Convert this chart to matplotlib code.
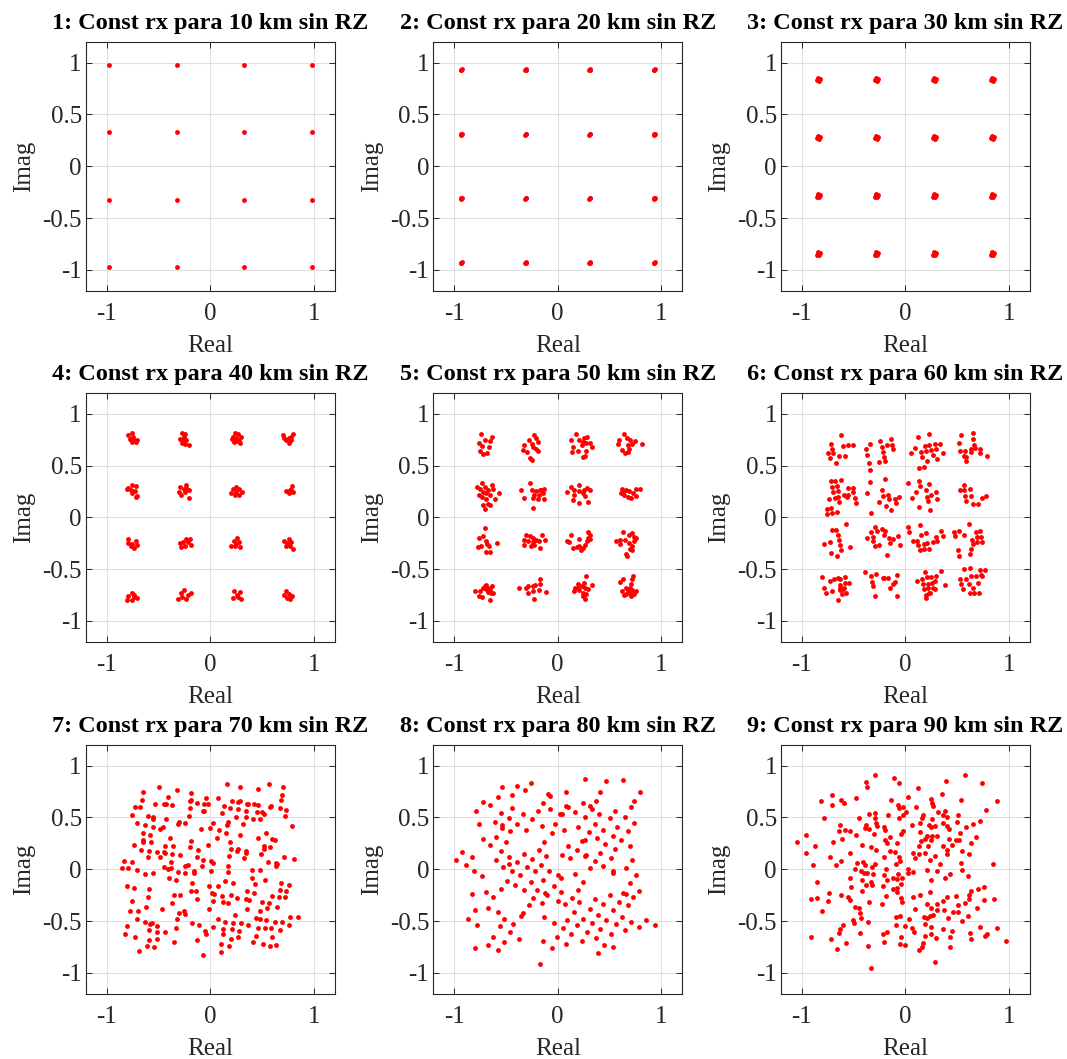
import numpy as np
import matplotlib
matplotlib.use("Agg")
import matplotlib.pyplot as plt

plt.rcParams['font.family'] = ['Liberation Serif', 'DejaVu Serif']

distances = [10, 20, 30, 40, 50, 60, 70, 80, 90]

# 16-QAM levels for the short links (clusters are tight)
p1_levels = [-0.977, -0.326, 0.326, 0.977]
p2_levels = [-0.93, -0.31, 0.31, 0.93]
p3_levels = [-0.84, -0.28, 0.28, 0.84]
p1_spread = [(0.0, 0.0)]
p2_spread = [(0.0, 0.0), (0.006, 0.004), (-0.004, -0.004)]
p3_spread = [(0.0, 0.0), (0.015, 0.005), (-0.01, -0.012), (0.005, -0.015), (-0.008, 0.012)]

p4 = [(-0.79, 0.79), (-0.76, 0.81), (-0.75, 0.78), (-0.78, 0.76), (-0.74, 0.75), (-0.76, 0.73), (-0.72, 0.73), (-0.71, 0.75), (-0.77, 0.75),
      (-0.27, 0.81), (-0.24, 0.80), (-0.29, 0.76), (-0.26, 0.75), (-0.23, 0.75), (-0.27, 0.72), (-0.24, 0.71), (-0.21, 0.70), (-0.25, 0.78),
      (0.24, 0.81), (0.27, 0.80), (0.21, 0.76), (0.25, 0.77), (0.28, 0.75), (0.23, 0.73), (0.29, 0.72), (0.26, 0.74), (0.22, 0.78), (0.30, 0.78),
      (0.70, 0.79), (0.80, 0.80), (0.76, 0.77), (0.73, 0.75), (0.78, 0.75), (0.76, 0.72), (0.71, 0.77), (0.78, 0.78),
      (-0.76, 0.31), (-0.72, 0.30), (-0.80, 0.27), (-0.77, 0.26), (-0.73, 0.25), (-0.76, 0.23), (-0.72, 0.20), (-0.71, 0.21), (-0.79, 0.28),
      (-0.23, 0.31), (-0.29, 0.29), (-0.25, 0.27), (-0.21, 0.26), (-0.30, 0.24), (-0.24, 0.24), (-0.28, 0.22), (-0.21, 0.19), (-0.23, 0.28),
      (0.25, 0.29), (0.22, 0.27), (0.28, 0.27), (0.20, 0.23), (0.31, 0.24), (0.24, 0.22), (0.28, 0.22), (0.25, 0.24),
      (0.79, 0.30), (0.78, 0.26), (0.73, 0.25), (0.76, 0.23), (0.80, 0.24), (0.77, 0.26),
      (-0.79, -0.21), (-0.79, -0.25), (-0.76, -0.26), (-0.72, -0.23), (-0.71, -0.27), (-0.74, -0.30), (-0.77, -0.28),
      (-0.23, -0.21), (-0.20, -0.21), (-0.29, -0.25), (-0.26, -0.24), (-0.19, -0.27), (-0.28, -0.29), (-0.24, -0.28), (-0.22, -0.24),
      (0.26, -0.20), (0.23, -0.23), (0.28, -0.24), (0.20, -0.28), (0.24, -0.28), (0.29, -0.29), (0.25, -0.26),
      (0.71, -0.23), (0.76, -0.21), (0.78, -0.24), (0.73, -0.28), (0.77, -0.28), (0.80, -0.31), (0.74, -0.25),
      (-0.76, -0.73), (-0.79, -0.76), (-0.74, -0.75), (-0.80, -0.80), (-0.76, -0.80), (-0.71, -0.78), (-0.74, -0.77),
      (-0.25, -0.70), (-0.19, -0.73), (-0.28, -0.73), (-0.31, -0.79), (-0.23, -0.79), (-0.27, -0.77), (-0.22, -0.75),
      (0.23, -0.71), (0.29, -0.72), (0.26, -0.75), (0.22, -0.78), (0.30, -0.79), (0.27, -0.77),
      (0.73, -0.71), (0.71, -0.75), (0.76, -0.74), (0.79, -0.76), (0.74, -0.78), (0.77, -0.79)]

p5 = [(-0.74, 0.80), (-0.63, 0.78), (-0.76, 0.72), (-0.70, 0.75), (-0.65, 0.74), (-0.73, 0.69), (-0.66, 0.68), (-0.75, 0.64), (-0.68, 0.62), (-0.72, 0.61),
      (-0.23, 0.79), (-0.33, 0.70), (-0.28, 0.75), (-0.25, 0.71), (-0.21, 0.77), (-0.19, 0.73), (-0.34, 0.65), (-0.21, 0.66), (-0.19, 0.64), (-0.30, 0.63),
      (-0.24, 0.68), (-0.27, 0.57), (-0.25, 0.55),
      (0.18, 0.80), (0.13, 0.75), (0.21, 0.75), (0.25, 0.77), (0.28, 0.78), (0.24, 0.73), (0.27, 0.72), (0.23, 0.70), (0.31, 0.72), (0.33, 0.68),
      (0.15, 0.68), (0.20, 0.64), (0.27, 0.64), (0.14, 0.63), (0.26, 0.59), (0.24, 0.58),
      (0.64, 0.80), (0.59, 0.75), (0.67, 0.77), (0.70, 0.75), (0.75, 0.74), (0.81, 0.71), (0.58, 0.71), (0.68, 0.70), (0.72, 0.71), (0.62, 0.65),
      (0.69, 0.66), (0.65, 0.62), (0.68, 0.63),
      (-0.73, 0.33), (-0.78, 0.29), (-0.75, 0.27), (-0.70, 0.29), (-0.63, 0.31), (-0.67, 0.26), (-0.62, 0.27), (-0.72, 0.24), (-0.69, 0.23), (-0.65, 0.22),
      (-0.57, 0.23), (-0.73, 0.20), (-0.69, 0.18), (-0.61, 0.18), (-0.72, 0.12), (-0.67, 0.13), (-0.70, 0.08), (-0.65, 0.12), (-0.76, 0.22),
      (-0.27, 0.33), (-0.35, 0.26), (-0.25, 0.26), (-0.21, 0.25), (-0.17, 0.26), (-0.13, 0.27), (-0.23, 0.22), (-0.18, 0.22), (-0.14, 0.23), (-0.33, 0.19),
      (-0.24, 0.19), (-0.19, 0.18), (-0.13, 0.18), (-0.24, 0.09), (-0.16, 0.26),
      (0.21, 0.31), (0.13, 0.29), (0.09, 0.24), (0.16, 0.26), (0.21, 0.25), (0.25, 0.26), (0.28, 0.28), (0.31, 0.26), (0.24, 0.23), (0.16, 0.22),
      (0.26, 0.21), (0.15, 0.17), (0.21, 0.14), (0.29, 0.15),
      (0.62, 0.27), (0.66, 0.26), (0.69, 0.25), (0.61, 0.23), (0.64, 0.22), (0.68, 0.20), (0.73, 0.23), (0.76, 0.27), (0.79, 0.27), (0.76, 0.21),
      (0.71, 0.19), (0.63, 0.23),
      (-0.70, -0.10), (-0.72, -0.18), (-0.76, -0.20), (-0.69, -0.23), (-0.77, -0.29), (-0.74, -0.28), (-0.66, -0.28), (-0.59, -0.25), (-0.69, -0.33),
      (-0.65, -0.33), (-0.68, -0.26),
      (-0.31, -0.17), (-0.27, -0.18), (-0.24, -0.20), (-0.33, -0.22), (-0.29, -0.23), (-0.24, -0.24), (-0.21, -0.22), (-0.18, -0.23), (-0.15, -0.17),
      (-0.12, -0.22), (-0.33, -0.27), (-0.26, -0.28), (-0.23, -0.27), (-0.17, -0.30),
      (0.29, -0.14), (0.13, -0.17), (0.21, -0.21), (0.31, -0.17), (0.31, -0.21), (0.09, -0.23), (0.11, -0.24), (0.28, -0.23), (0.26, -0.27), (0.21, -0.28),
      (0.15, -0.30), (0.19, -0.29), (0.22, -0.32), (0.24, -0.30), (0.29, -0.20),
      (0.63, -0.14), (0.56, -0.23), (0.60, -0.22), (0.65, -0.22), (0.69, -0.17), (0.72, -0.15), (0.74, -0.19), (0.76, -0.20), (0.69, -0.25), (0.74, -0.23),
      (0.72, -0.28), (0.72, -0.32), (0.66, -0.35), (0.67, -0.37), (0.70, -0.31), (0.60, -0.26),
      (-0.80, -0.71), (-0.75, -0.71), (-0.72, -0.68), (-0.70, -0.66), (-0.69, -0.65), (-0.67, -0.68), (-0.63, -0.66), (-0.65, -0.70), (-0.62, -0.73),
      (-0.64, -0.73), (-0.69, -0.69), (-0.76, -0.76), (-0.73, -0.77), (-0.65, -0.80), (-0.67, -0.72),
      (-0.37, -0.68), (-0.31, -0.68), (-0.29, -0.66), (-0.24, -0.66), (-0.22, -0.65), (-0.17, -0.60), (-0.17, -0.64), (-0.29, -0.73), (-0.24, -0.71),
      (-0.18, -0.70), (-0.11, -0.72), (-0.23, -0.79),
      (0.27, -0.57), (0.20, -0.64), (0.23, -0.66), (0.25, -0.63), (0.33, -0.65), (0.17, -0.68), (0.21, -0.70), (0.26, -0.68), (0.29, -0.69), (0.16, -0.71),
      (0.24, -0.73), (0.27, -0.74), (0.24, -0.76), (0.26, -0.79), (0.20, -0.68),
      (0.73, -0.57), (0.60, -0.62), (0.63, -0.60), (0.72, -0.60), (0.71, -0.64), (0.66, -0.68), (0.70, -0.68), (0.76, -0.71), (0.62, -0.71), (0.68, -0.71),
      (0.72, -0.70), (0.64, -0.75), (0.66, -0.74), (0.71, -0.76), (0.74, -0.74), (0.70, -0.73)]

p6 = [(-0.62, 0.79), (-0.72, 0.71), (-0.60, 0.69), (-0.55, 0.70), (-0.51, 0.70), (-0.71, 0.66), (-0.75, 0.62), (-0.70, 0.62), (-0.64, 0.59), (-0.58, 0.59),
      (-0.73, 0.57), (-0.67, 0.52),
      (-0.34, 0.71), (-0.24, 0.74), (-0.14, 0.76), (-0.18, 0.70), (-0.13, 0.70), (-0.38, 0.66), (-0.23, 0.68), (-0.12, 0.66), (-0.37, 0.60), (-0.22, 0.63),
      (-0.21, 0.58), (-0.25, 0.53), (-0.35, 0.52), (-0.34, 0.46), (-0.20, 0.54),
      (0.12, 0.78), (0.23, 0.80), (0.19, 0.69), (0.23, 0.70), (0.29, 0.71), (0.33, 0.71), (0.09, 0.67), (0.15, 0.63), (0.20, 0.64), (0.25, 0.65),
      (0.30, 0.66), (0.36, 0.62), (0.05, 0.62), (0.16, 0.58), (0.27, 0.60), (0.31, 0.56), (0.21, 0.54), (0.13, 0.48), (0.18, 0.49),
      (0.54, 0.79), (0.65, 0.81), (0.65, 0.76), (0.52, 0.72), (0.66, 0.70), (0.63, 0.66), (0.67, 0.67), (0.72, 0.66), (0.53, 0.64), (0.58, 0.64),
      (0.57, 0.59), (0.63, 0.63), (0.72, 0.62), (0.79, 0.59), (0.59, 0.54), (0.59, 0.58),
      (-0.62, 0.36), (-0.72, 0.35), (-0.68, 0.35), (-0.71, 0.29), (-0.66, 0.30), (-0.70, 0.24), (-0.65, 0.25), (-0.59, 0.22), (-0.55, 0.28), (-0.51, 0.28),
      (-0.51, 0.24), (-0.55, 0.22), (-0.65, 0.20), (-0.74, 0.18), (-0.68, 0.19), (-0.64, 0.15), (-0.56, 0.20), (-0.49, 0.19), (-0.48, 0.14), (-0.76, 0.08),
      (-0.72, 0.09), (-0.76, 0.03), (-0.71, 0.04), (-0.66, 0.05),
      (-0.34, 0.34), (-0.20, 0.37), (-0.37, 0.23), (-0.23, 0.26), (-0.22, 0.21), (-0.17, 0.22), (-0.25, 0.15), (-0.16, 0.18), (-0.10, 0.18), (-0.06, 0.20),
      (-0.09, 0.14), (-0.19, 0.11), (-0.14, 0.07), (-0.33, 0.04),
      (0.03, 0.33), (0.13, 0.35), (0.14, 0.30), (0.23, 0.32), (0.10, 0.24), (0.20, 0.26), (0.25, 0.22), (0.30, 0.24), (0.06, 0.19), (0.21, 0.20),
      (0.31, 0.18), (0.22, 0.16), (0.13, 0.10), (0.24, 0.07),
      (0.57, 0.31), (0.53, 0.26), (0.57, 0.26), (0.62, 0.27), (0.58, 0.21), (0.63, 0.21), (0.59, 0.16), (0.65, 0.13), (0.70, 0.13), (0.74, 0.19), (0.78, 0.21),
      (-0.57, -0.06), (-0.71, -0.12), (-0.67, -0.12), (-0.65, -0.17), (-0.64, -0.22), (-0.63, -0.27), (-0.79, -0.26), (-0.73, -0.24), (-0.53, -0.29),
      (-0.62, -0.32), (-0.72, -0.34), (-0.66, -0.37),
      (-0.29, -0.09), (-0.23, -0.11), (-0.27, -0.13), (-0.33, -0.14), (-0.20, -0.13), (-0.21, -0.17), (-0.37, -0.20), (-0.31, -0.19), (-0.31, -0.23),
      (-0.16, -0.20), (-0.12, -0.21), (-0.07, -0.18), (-0.15, -0.25), (-0.29, -0.28), (-0.25, -0.27), (-0.05, -0.27), (-0.18, -0.36),
      (0.03, -0.09), (0.14, -0.07), (0.04, -0.14), (0.20, -0.15), (0.15, -0.17), (0.34, -0.13), (0.36, -0.18), (0.30, -0.19), (0.07, -0.23), (0.11, -0.23),
      (0.12, -0.27), (0.18, -0.26), (0.21, -0.25), (0.27, -0.24), (0.31, -0.23), (0.18, -0.31), (0.23, -0.31), (0.14, -0.32),
      (0.61, -0.06), (0.47, -0.14), (0.52, -0.13), (0.48, -0.18), (0.57, -0.17), (0.68, -0.14), (0.72, -0.13), (0.73, -0.19), (0.69, -0.19), (0.64, -0.22),
      (0.69, -0.24), (0.74, -0.24), (0.65, -0.26), (0.63, -0.31), (0.51, -0.32), (0.62, -0.35), (0.52, -0.37),
      (-0.80, -0.58), (-0.73, -0.61), (-0.69, -0.60), (-0.65, -0.59), (-0.63, -0.60), (-0.58, -0.58), (-0.79, -0.68), (-0.71, -0.71), (-0.77, -0.73),
      (-0.63, -0.65), (-0.58, -0.63), (-0.54, -0.63), (-0.63, -0.68), (-0.60, -0.69), (-0.59, -0.68), (-0.63, -0.70), (-0.61, -0.74), (-0.57, -0.73),
      (-0.65, -0.80),
      (-0.39, -0.53), (-0.33, -0.57), (-0.28, -0.55), (-0.22, -0.59), (-0.21, -0.59), (-0.17, -0.59), (-0.08, -0.56), (-0.32, -0.62), (-0.31, -0.66),
      (-0.10, -0.62), (-0.12, -0.64), (-0.15, -0.68), (-0.29, -0.76), (-0.08, -0.76),
      (0.19, -0.53), (0.34, -0.52), (0.11, -0.61), (0.16, -0.60), (0.21, -0.58), (0.25, -0.58), (0.30, -0.57), (0.17, -0.64), (0.22, -0.64), (0.26, -0.63),
      (0.29, -0.61), (0.38, -0.65), (0.18, -0.69), (0.22, -0.68), (0.27, -0.68), (0.29, -0.69), (0.23, -0.73), (0.24, -0.73), (0.20, -0.75), (0.20, -0.78),
      (0.57, -0.50), (0.62, -0.49), (0.72, -0.51), (0.77, -0.51), (0.53, -0.60), (0.59, -0.60), (0.63, -0.57), (0.68, -0.57), (0.73, -0.56), (0.74, -0.57),
      (0.54, -0.64), (0.61, -0.64), (0.70, -0.63), (0.65, -0.68), (0.66, -0.73), (0.71, -0.73), (0.56, -0.69), (0.62, -0.73)]

p7 = [(0.16, 0.82), (0.57, 0.82), (-0.50, 0.79), (0.29, 0.79), (0.70, 0.79), (-0.65, 0.75), (-0.32, 0.76), (0.46, 0.77), (-0.19, 0.74), (0.69, 0.72),
      (-0.41, 0.70), (-0.66, 0.67), (-0.04, 0.69), (0.07, 0.69), (0.68, 0.67), (-0.19, 0.67), (-0.20, 0.66), (0.21, 0.66), (0.27, 0.65), (0.29, 0.66),
      (-0.53, 0.63), (-0.45, 0.63), (-0.43, 0.63), (-0.37, 0.62), (-0.13, 0.64), (-0.06, 0.63), (-0.02, 0.63), (0.35, 0.63), (0.36, 0.63), (0.42, 0.63),
      (0.46, 0.62), (-0.73, 0.60), (-0.68, 0.60), (-0.20, 0.59), (0.13, 0.61), (0.19, 0.59), (0.27, 0.58), (0.34, 0.56), (0.59, 0.61), (0.58, 0.60),
      (0.67, 0.59), (0.73, 0.57), (-0.06, 0.56), (-0.07, 0.56), (0.11, 0.54), (0.45, 0.55), (0.50, 0.55), (0.52, 0.53), (-0.76, 0.52), (-0.60, 0.51),
      (-0.55, 0.50), (-0.55, 0.48), (-0.21, 0.51), (0.25, 0.50), (0.34, 0.50), (0.41, 0.48), (0.48, 0.48), (0.72, 0.51), (-0.43, 0.48), (-0.71, 0.45),
      (-0.30, 0.46), (-0.31, 0.44), (-0.24, 0.45), (0.03, 0.45), (0.17, 0.46), (0.16, 0.43), (0.32, 0.44), (-0.63, 0.43), (-0.55, 0.41), (-0.46, 0.41),
      (-0.49, 0.39), (-0.09, 0.39), (0.00, 0.40), (0.08, 0.38), (0.79, 0.42), (-0.65, 0.35), (-0.58, 0.33), (0.15, 0.35), (0.54, 0.35), (-0.39, 0.30),
      (0.06, 0.30), (0.29, 0.33), (0.46, 0.30), (0.60, 0.29), (0.62, 0.28), (-0.65, 0.28), (-0.65, 0.26), (-0.57, 0.26), (-0.19, 0.27), (0.19, 0.26),
      (-0.74, 0.23), (-0.44, 0.22), (-0.36, 0.22), (-0.02, 0.23), (0.52, 0.22), (0.58, 0.21), (-0.67, 0.19), (-0.59, 0.18), (-0.45, 0.17), (-0.44, 0.16),
      (-0.20, 0.21), (-0.12, 0.19), (0.20, 0.20), (0.27, 0.20), (0.26, 0.18), (0.34, 0.18), (0.34, 0.16), (0.52, 0.20), (-0.37, 0.15), (-0.51, 0.17),
      (-0.29, 0.14), (0.49, 0.15), (-0.60, 0.12), (-0.49, 0.12), (-0.13, 0.12), (0.18, 0.13), (0.33, 0.11), (0.71, 0.12), (0.81, 0.10), (-0.83, 0.08),
      (-0.76, 0.07), (-0.38, 0.07), (-0.07, 0.09), (0.01, 0.08), (0.03, 0.06), (0.56, 0.07), (0.63, 0.06), (0.64, 0.05), (0.63, 0.03), (-0.22, 0.04),
      (-0.24, 0.03), (-0.08, 0.03), (0.17, 0.03), (-0.85, 0.01), (-0.79, 0.01), (-0.71, -0.01), (-0.45, 0.02), (-0.41, 0.00), (-0.38, 0.01), (0.40, -0.01),
      (0.48, -0.01), (-0.31, -0.03), (-0.16, -0.02), (0.01, -0.02), (0.17, -0.03),
      (-0.63, -0.05), (-0.55, -0.04), (-0.24, -0.04), (-0.16, -0.04), (-0.40, -0.08), (-0.33, -0.10), (0.40, -0.08), (0.14, -0.11), (0.22, -0.13), (0.53, -0.10),
      (0.68, -0.13), (0.76, -0.15), (-0.18, -0.13), (-0.01, -0.16), (0.07, -0.16), (-0.80, -0.16), (-0.74, -0.18), (0.43, -0.14), (-0.59, -0.19), (-0.19, -0.21),
      (-0.14, -0.21), (0.67, -0.20), (0.73, -0.21), (0.02, -0.23), (0.04, -0.24), (0.20, -0.25), (0.35, -0.21), (0.42, -0.23), (-0.35, -0.25), (-0.29, -0.25),
      (0.11, -0.26), (-0.60, -0.27), (0.26, -0.28), (0.34, -0.29), (0.60, -0.26), (0.66, -0.27), (0.72, -0.27), (-0.76, -0.31), (-0.13, -0.29), (0.03, -0.31),
      (0.12, -0.32), (0.17, -0.33), (0.37, -0.30), (0.50, -0.32), (0.57, -0.33), (0.55, -0.37), (0.64, -0.36), (-0.37, -0.33), (-0.62, -0.36), (-0.47, -0.38),
      (-0.01, -0.38), (0.35, -0.38), (0.48, -0.40), (-0.78, -0.40), (-0.70, -0.40), (-0.25, -0.40), (-0.24, -0.43), (-0.30, -0.42), (0.24, -0.44), (-0.71, -0.48),
      (-0.32, -0.48), (0.07, -0.48), (0.44, -0.47), (0.48, -0.48), (0.77, -0.46), (0.85, -0.46), (-0.63, -0.51), (-0.56, -0.52), (-0.58, -0.53), (-0.18, -0.52),
      (-0.11, -0.54), (0.14, -0.51), (0.22, -0.52), (0.30, -0.52), (0.36, -0.54), (0.54, -0.49), (0.62, -0.51), (0.69, -0.51), (0.76, -0.54), (-0.80, -0.55),
      (-0.51, -0.55), (-0.33, -0.57), (0.03, -0.56), (0.12, -0.58), (0.21, -0.58), (0.28, -0.60), (0.46, -0.57), (0.53, -0.57), (0.59, -0.57), (0.67, -0.59),
      (-0.59, -0.59), (-0.51, -0.61), (-0.44, -0.61), (-0.82, -0.63), (-0.73, -0.65), (-0.59, -0.68), (-0.51, -0.67), (-0.05, -0.60), (-0.04, -0.63), (0.12, -0.63),
      (0.20, -0.67), (0.27, -0.65), (0.44, -0.64), (0.60, -0.65), (-0.35, -0.70), (-0.13, -0.68), (0.41, -0.70), (-0.61, -0.74), (-0.54, -0.75), (0.10, -0.72),
      (0.18, -0.74), (0.51, -0.72), (0.58, -0.74), (0.63, -0.73), (-0.69, -0.79), (0.10, -0.80), (-0.07, -0.83)]

p8 = [(0.26, 0.87), (0.47, 0.85), (0.63, 0.86), (-0.26, 0.83), (-0.54, 0.79), (-0.39, 0.80), (-0.32, 0.76), (0.08, 0.75), (0.41, 0.75), (0.79, 0.75),
      (-0.44, 0.72), (-0.09, 0.73), (-0.07, 0.71), (-0.58, 0.70), (-0.72, 0.65), (-0.65, 0.62), (-0.44, 0.59), (-0.14, 0.64), (0.37, 0.66), (0.74, 0.66),
      (0.08, 0.61), (0.10, 0.60), (0.24, 0.64), (0.31, 0.61), (0.33, 0.58), (0.71, 0.60), (-0.79, 0.56), (-0.07, 0.58), (-0.19, 0.56), (0.55, 0.56),
      (0.17, 0.55), (-0.55, 0.54), (-0.34, 0.53), (0.02, 0.53), (0.04, 0.53), (0.40, 0.53), (-0.47, 0.49), (-0.25, 0.48), (0.26, 0.50), (0.50, 0.49),
      (0.65, 0.50), (-0.76, 0.44), (-0.61, 0.46), (-0.54, 0.43), (-0.54, 0.40), (-0.39, 0.44), (-0.15, 0.42), (-0.03, 0.44), (0.36, 0.44), (0.74, 0.45),
      (-0.46, 0.37), (-0.31, 0.38), (-0.06, 0.35), (0.06, 0.38), (0.20, 0.41), (0.30, 0.36), (0.44, 0.38), (0.57, 0.41), (0.68, 0.37), (-0.72, 0.29),
      (-0.60, 0.31), (-0.50, 0.26), (-0.13, 0.26), (0.23, 0.27), (0.26, 0.28), (0.38, 0.30), (0.53, 0.32), (0.61, 0.28), (-0.65, 0.23), (0.10, 0.22),
      (0.46, 0.24), (0.55, 0.20), (0.70, 0.22), (0.19, 0.19), (-0.18, 0.19), (-0.92, 0.17), (-0.55, 0.18), (-0.33, 0.15), (0.04, 0.14), (0.27, 0.14),
      (0.26, 0.13), (0.41, 0.16), (-0.11, 0.13), (-0.98, 0.09), (-0.83, 0.12), (-0.89, 0.04), (-0.60, 0.09), (-0.47, 0.12), (-0.25, 0.10), (0.51, 0.11),
      (0.12, 0.11), (0.72, 0.09), (-0.39, 0.07), (-0.47, 0.05), (-0.16, 0.04), (0.36, 0.08), (-0.53, 0.02), (-0.30, 0.02), (0.44, 0.03), (0.31, 0.01),
      (0.66, 0.01), (-0.81, -0.02), (-0.44, -0.02), (-0.22, -0.02), (-0.08, -0.02), (0.53, -0.02),
      (-0.73, -0.07), (-0.36, -0.06), (0.00, -0.06), (0.03, -0.08), (0.17, -0.05), (0.53, -0.04), (0.76, -0.06), (-0.49, -0.11), (-0.26, -0.12), (-0.14, -0.10),
      (0.24, -0.12), (0.70, -0.13), (-0.41, -0.15), (-0.04, -0.16), (-0.55, -0.19), (-0.33, -0.20), (-0.20, -0.20), (0.20, -0.20), (0.78, -0.21), (-0.83, -0.24),
      (-0.69, -0.22), (-0.12, -0.23), (-0.10, -0.25), (0.03, -0.22), (0.50, -0.25), (0.63, -0.23), (0.66, -0.24), (-0.62, -0.27), (-0.24, -0.28), (0.14, -0.28),
      (0.36, -0.29), (0.73, -0.27), (0.00, -0.31), (0.21, -0.32), (-0.15, -0.33), (0.07, -0.34), (-0.28, -0.35), (0.44, -0.34), (0.59, -0.32), (0.68, -0.35),
      (-0.67, -0.37), (0.31, -0.38), (-0.80, -0.39), (-0.58, -0.41), (-0.34, -0.42), (-0.35, -0.45), (0.16, -0.41), (0.53, -0.39), (0.39, -0.44), (-0.13, -0.46),
      (-0.52, -0.48), (0.24, -0.48), (0.62, -0.46), (-0.87, -0.48), (0.09, -0.49), (0.47, -0.49), (0.85, -0.49), (0.94, -0.54), (-0.04, -0.52), (-0.43, -0.53),
      (0.33, -0.52), (0.71, -0.51), (0.56, -0.53), (-0.78, -0.54), (-0.56, -0.55), (0.19, -0.54), (0.78, -0.56), (0.05, -0.57), (0.41, -0.58), (0.65, -0.59),
      (-0.46, -0.61), (0.28, -0.61), (0.51, -0.63), (-0.62, -0.65), (0.13, -0.63), (-0.37, -0.67), (-0.01, -0.65), (0.37, -0.66), (0.23, -0.69), (-0.52, -0.70),
      (-0.14, -0.69), (-0.67, -0.73), (0.08, -0.72), (0.45, -0.73), (-0.80, -0.76), (-0.58, -0.78), (-0.06, -0.76), (0.53, -0.75), (0.39, -0.81), (-0.17, -0.91)]

p9 = [(-0.29, 0.91), (0.58, 0.91), (-0.11, 0.88), (-0.38, 0.84), (-0.06, 0.83), (0.39, 0.85), (0.74, 0.83), (-0.37, 0.79), (0.12, 0.78), (0.35, 0.73),
      (-0.71, 0.72), (-0.81, 0.66), (-0.62, 0.67), (-0.59, 0.64), (-0.48, 0.69), (-0.14, 0.67), (0.03, 0.70), (0.25, 0.68), (0.54, 0.67), (0.88, 0.66),
      (-0.71, 0.62), (-0.07, 0.62), (-0.02, 0.60), (-0.06, 0.59), (0.10, 0.60), (0.26, 0.64), (0.27, 0.61), (0.78, 0.57), (-0.35, 0.53), (-0.29, 0.54),
      (-0.17, 0.52), (-0.02, 0.52), (0.01, 0.55), (0.17, 0.52), (0.32, 0.55), (0.38, 0.56), (0.36, 0.52), (0.40, 0.50), (0.51, 0.52), (-0.79, 0.49),
      (-0.45, 0.49), (-0.06, 0.49), (-0.29, 0.49), (-0.28, 0.45), (0.16, 0.49), (0.26, 0.48), (0.14, 0.45), (0.36, 0.45), (0.50, 0.46), (0.72, 0.47),
      (-0.63, 0.43), (-0.38, 0.43), (-0.27, 0.42), (-0.39, 0.40), (-0.35, 0.39), (-0.21, 0.41), (-0.20, 0.38), (0.06, 0.43), (0.23, 0.43), (0.25, 0.41),
      (0.29, 0.42), (0.40, 0.42), (0.42, 0.39), (0.59, 0.41), (0.65, 0.44), (-0.64, 0.37), (-0.58, 0.38), (-0.53, 0.37), (-0.48, 0.33), (-0.30, 0.34),
      (-0.15, 0.31), (-0.04, 0.34), (-0.02, 0.37), (0.14, 0.36), (0.21, 0.32), (0.26, 0.32), (0.31, 0.32), (0.53, 0.35), (-0.96, 0.33), (-0.61, 0.29),
      (-0.20, 0.28), (-0.18, 0.25), (-0.08, 0.25), (0.15, 0.27), (0.19, 0.29), (0.25, 0.28), (0.42, 0.29), (0.49, 0.28), (0.52, 0.28), (0.68, 0.31),
      (0.63, 0.25), (-1.05, 0.26), (-0.87, 0.22), (-0.70, 0.26), (-0.42, 0.23), (-0.33, 0.21), (-0.28, 0.19), (-0.15, 0.18), (-0.10, 0.17), (0.13, 0.22),
      (0.22, 0.22), (0.36, 0.22), (0.40, 0.19), (0.45, 0.23), (0.55, 0.18), (-0.96, 0.16), (-0.53, 0.16), (-0.73, 0.12), (-0.21, 0.12), (-0.06, 0.12),
      (-0.05, 0.08), (0.07, 0.16), (0.09, 0.11), (0.13, 0.15), (0.19, 0.16), (0.29, 0.13), (0.40, 0.15), (0.61, 0.15), (-0.62, 0.08), (-0.47, 0.06),
      (-0.41, 0.07), (-0.39, 0.04), (-0.29, 0.05), (-0.09, 0.05), (0.24, 0.09), (0.33, 0.05), (0.54, 0.06), (0.85, 0.05), (-0.89, 0.04), (-0.67, 0.04),
      (-0.49, 0.00), (-0.32, 0.02), (-0.19, 0.00), (0.03, 0.00),
      (-0.43, -0.02), (-0.40, -0.04), (-0.37, -0.04), (-0.31, -0.05), (0.07, -0.03), (0.21, -0.01), (0.31, -0.02), (0.43, -0.05), (0.55, -0.01), (0.60, -0.07),
      (-0.53, -0.08), (-0.21, -0.06), (-0.12, -0.08), (-0.07, -0.05), (-0.08, -0.09), (-0.03, -0.08), (0.03, -0.04), (0.38, -0.08), (0.25, -0.10), (-0.85, -0.12),
      (-0.42, -0.10), (-0.33, -0.12), (-0.32, -0.15), (-0.38, -0.15), (-0.52, -0.17), (-0.42, -0.21), (-0.22, -0.16), (-0.18, -0.10), (-0.12, -0.19), (-0.08, -0.18),
      (-0.08, -0.22), (-0.04, -0.14), (0.24, -0.22), (0.70, -0.19), (0.76, -0.17), (0.63, -0.21), (-0.74, -0.23), (-0.62, -0.25), (-0.55, -0.27), (-0.53, -0.30),
      (-0.91, -0.29), (-0.85, -0.28), (-0.75, -0.31), (-0.19, -0.26), (-0.04, -0.28), (-0.03, -0.32), (0.07, -0.27), (0.14, -0.25), (0.40, -0.27), (0.49, -0.26),
      (0.61, -0.25), (0.61, -0.29), (0.76, -0.30), (0.86, -0.29), (-0.35, -0.32), (-0.23, -0.34), (0.21, -0.34), (0.31, -0.34), (0.36, -0.31), (0.51, -0.35),
      (0.58, -0.33), (-0.49, -0.36), (-0.45, -0.37), (0.09, -0.38), (0.25, -0.37), (0.31, -0.39), (0.37, -0.39), (0.46, -0.41), (0.69, -0.37), (-0.80, -0.40),
      (-0.44, -0.42), (-0.43, -0.47), (-0.09, -0.46), (-0.05, -0.45), (0.18, -0.46), (0.21, -0.47), (0.24, -0.45), (0.27, -0.44), (0.41, -0.47), (0.51, -0.41),
      (0.60, -0.45), (0.04, -0.48), (-0.51, -0.49), (-0.50, -0.52), (-0.36, -0.51), (0.55, -0.50), (-0.60, -0.54), (-0.63, -0.58), (-0.09, -0.54), (0.00, -0.55),
      (0.06, -0.57), (0.08, -0.61), (0.19, -0.53), (0.25, -0.56), (0.36, -0.58), (0.45, -0.60), (0.62, -0.62), (0.72, -0.56), (0.88, -0.57), (-0.64, -0.62),
      (-0.44, -0.62), (-0.22, -0.63), (-0.18, -0.61), (-0.04, -0.65), (0.19, -0.64), (0.25, -0.63), (0.30, -0.66), (0.43, -0.65), (0.63, -0.67), (0.77, -0.64),
      (0.79, -0.63), (-0.91, -0.65), (-0.72, -0.67), (-0.21, -0.70), (-0.57, -0.71), (-0.05, -0.72), (0.00, -0.73), (0.17, -0.71), (0.97, -0.69), (-0.36, -0.74),
      (0.16, -0.75), (0.43, -0.75), (-0.66, -0.77), (0.13, -0.78), (0.29, -0.90), (-0.33, -0.95)]


def grid_points(levels, spread):
    pts = []
    for re in levels:
        for im in levels:
            for dx, dy in spread:
                pts.append((re + dx, im + dy))
    return pts


panels = [grid_points(p1_levels, p1_spread),
          grid_points(p2_levels, p2_spread),
          grid_points(p3_levels, p3_spread),
          p4, p5, p6, p7, p8, p9]

fig = plt.figure(figsize=(10.67, 10.59), dpi=100)

lefts = [0.0806, 0.4062, 0.7320]
bottoms = [0.7256, 0.3941, 0.0618]
w, h = 0.2330, 0.2348
dark = '#262626'

for i, pts in enumerate(panels):
    row, col = divmod(i, 3)
    ax = fig.add_axes([lefts[col], bottoms[row], w, h])
    pts = np.array(pts)
    ax.plot(pts[:, 0], pts[:, 1], 'o', color='#ff0000', markersize=3.5,
            markeredgewidth=0, zorder=3)
    ax.set_xlim(-1.2, 1.2)
    ax.set_ylim(-1.2, 1.2)
    ax.set_xticks([-1, 0, 1])
    ax.set_yticks([-1, -0.5, 0, 0.5, 1])
    ax.set_xticklabels(['-1', '0', '1'])
    ax.set_yticklabels(['-1', '-0.5', '0', '0.5', '1'])
    ax.grid(True, color='#dfdfdf', linewidth=0.8, zorder=0)
    ax.set_axisbelow(True)
    ax.tick_params(direction='in', top=True, right=True, length=4,
                   width=0.7, color=dark, labelcolor=dark, labelsize=18)
    ax.tick_params(axis='x', pad=9)
    ax.tick_params(axis='y', pad=3)
    for s in ax.spines.values():
        s.set_color(dark)
        s.set_linewidth(0.8)
    ax.set_xlabel('Real', fontsize=18, color=dark, labelpad=7)
    ax.set_ylabel('Imag', fontsize=18, color=dark, labelpad=5)
    ax.set_title(f'{i + 1}: Const rx para {distances[i]} km sin RZ',
                 fontsize=17.5, fontweight='bold', pad=9)

fig.savefig('out.png', dpi=100)
